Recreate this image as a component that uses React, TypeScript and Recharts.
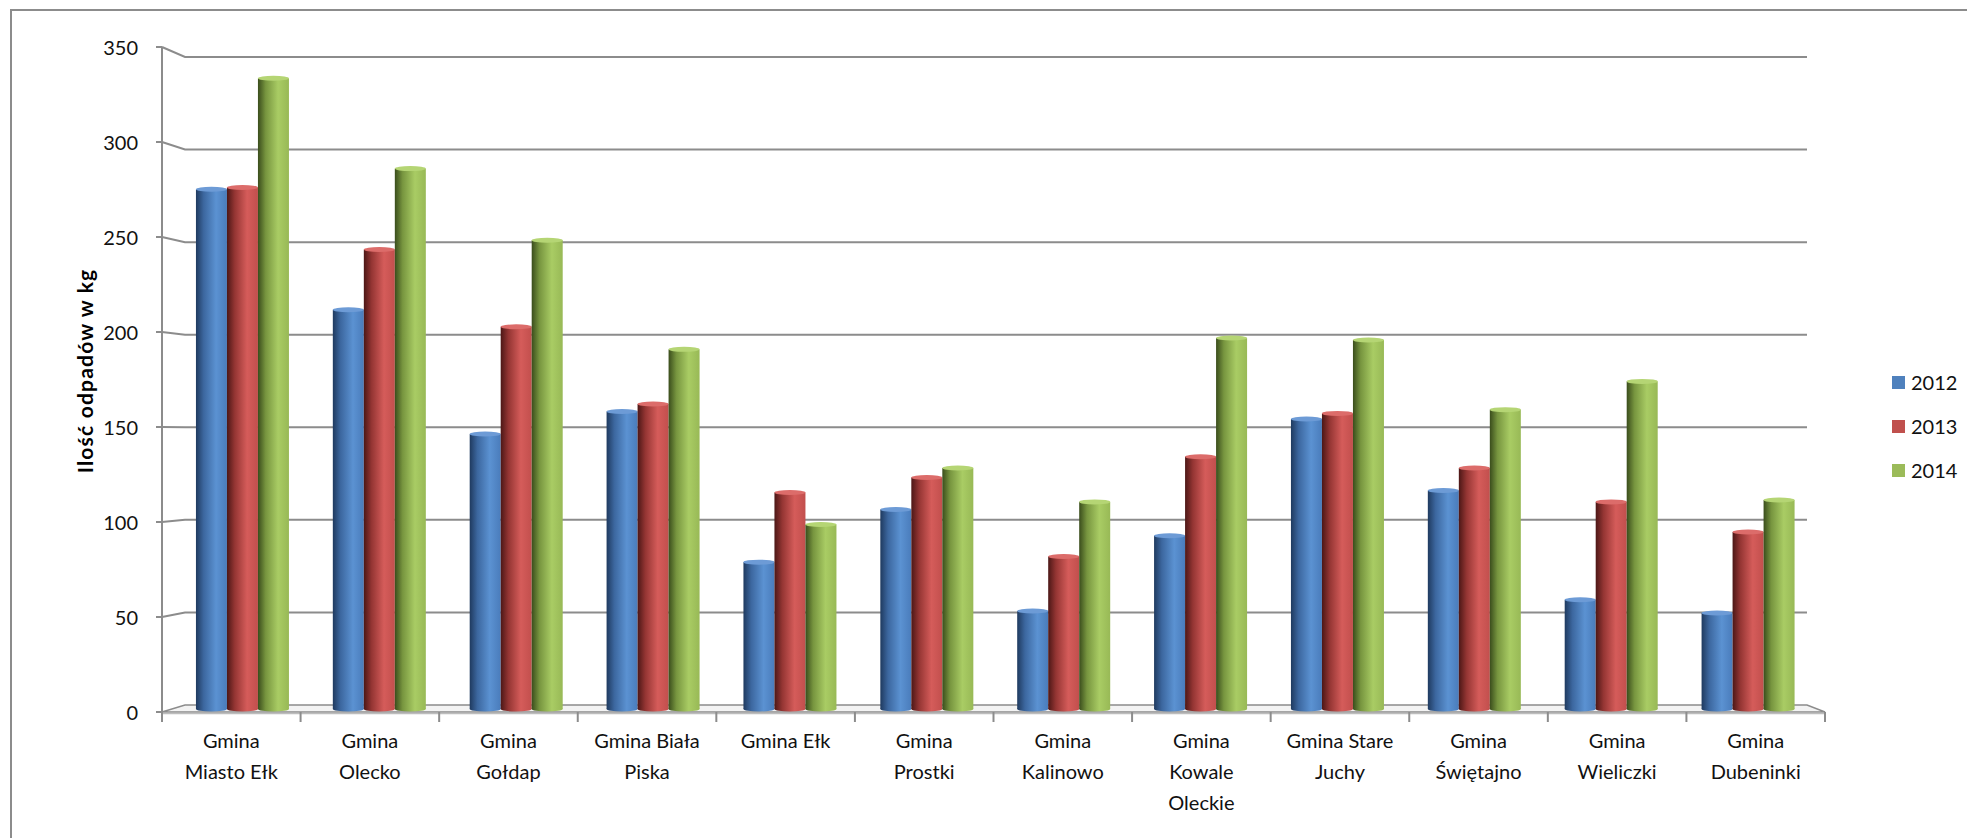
import React from 'react';
import { BarChart, Bar, XAxis, YAxis, CartesianGrid, Legend } from 'recharts';

const categories = [
  'Gmina Miasto Ełk', 'Gmina Olecko', 'Gmina Gołdap', 'Gmina Biała Piska', 'Gmina Ełk', 'Gmina Prostki',
  'Gmina Kalinowo', 'Gmina Kowale Oleckie', 'Gmina Stare Juchy', 'Gmina Świętajno', 'Gmina Wieliczki', 'Gmina Dubeninki',
];
const categoryLines = [
  ['Gmina', 'Miasto Ełk'], ['Gmina', 'Olecko'], ['Gmina', 'Gołdap'], ['Gmina Biała', 'Piska'], ['Gmina Ełk'],
  ['Gmina', 'Prostki'], ['Gmina', 'Kalinowo'], ['Gmina', 'Kowale', 'Oleckie'], ['Gmina Stare', 'Juchy'],
  ['Gmina', 'Świętajno'], ['Gmina', 'Wieliczki'], ['Gmina', 'Dubeninki'],
];
const series2012 = [276, 212, 146, 158, 78, 106, 52, 92, 154, 116, 58, 51];
const series2013 = [277, 244, 203, 162, 115, 123, 81, 134, 157, 128, 110, 94];
const series2014 = [335, 287, 249, 191, 98, 128, 110, 197, 196, 159, 174, 111];
const seriesNames = ['2012', '2013', '2014'];
const yTicks = [0, 50, 100, 150, 200, 250, 300, 350];
const yAxisTitle = 'Ilość odpadów w kg';

const data = categories.map((name, i) => ({
  name,
  s2012: series2012[i],
  s2013: series2013[i],
  s2014: series2014[i],
}));

const FONT = 'Lato, "Open Sans", sans-serif';
const CW = 1967;
const CH = 830;
const PLOT_L = 165.5;
const PLOT_R = 1808;
const PLOT_T = 42;
const PLOT_B = 701;
const FRONT_X = 154;
const FRONT_R = 1817;
const BACK_L = 177;
const BACK_R = 1799;
const GRID = '#8c8c8c';

const frontY = (y: number) => 39 + ((y - PLOT_T) * 665) / (PLOT_B - PLOT_T);
const backY = (y: number) => 49 + ((y - PLOT_T) * 648) / (PLOT_B - PLOT_T);
const frontX = (x: number) => FRONT_X + ((x - PLOT_L) * (FRONT_R - FRONT_X)) / (PLOT_R - PLOT_L);
const BAND = (PLOT_R - PLOT_L) / categories.length;

const GridLine = (p: any) => {
  const y = p.y1;
  if (Math.abs(y - PLOT_B) < 1) {
    const fy = frontY(y);
    const by = backY(y);
    return (
      <g key={`gl-${p.index}`}>
        <polygon
          points={`${FRONT_X},${fy} ${BACK_L},${by} ${BACK_R},${by} ${FRONT_R},${fy}`}
          fill="#f3f3f3"
          stroke={GRID}
          strokeWidth={1.5}
        />
        <line x1={FRONT_X} y1={fy + 1.5} x2={FRONT_R} y2={fy + 1.5} stroke="#bdbdbd" strokeWidth={1.5} />
      </g>
    );
  }
  const fy = frontY(y);
  const by = backY(y);
  return (
    <polyline
      key={`gl-${p.index}`}
      points={`${FRONT_X},${fy} ${BACK_L},${by} ${BACK_R},${by}`}
      fill="none"
      stroke={GRID}
      strokeWidth={2}
    />
  );
};

const YTick = (props: any) => {
  const { y, payload } = props;
  const fy = frontY(y);
  return (
    <g>
      {payload.value === 0 && (
        <line x1={FRONT_X} y1={frontY(PLOT_T)} x2={FRONT_X} y2={frontY(PLOT_B) + 10} stroke={GRID} strokeWidth={2} />
      )}
      <line x1={FRONT_X - 6} y1={fy} x2={FRONT_X} y2={fy} stroke={GRID} strokeWidth={2} />
      <text x={130} y={fy} textAnchor="end" dominantBaseline="central" fontSize={20} fontFamily={FONT} fill="#111">
        {payload.value}
      </text>
    </g>
  );
};

const XTick = (props: any) => {
  const { x, payload } = props;
  const i = categories.indexOf(payload.value);
  const lines = categoryLines[i] || [payload.value];
  const fx = frontX(x);
  const half = (BAND / 2) * (FRONT_R - FRONT_X) / (PLOT_R - PLOT_L);
  const fy = frontY(PLOT_B);
  return (
    <g>
      <line x1={fx - half} y1={fy} x2={fx - half} y2={fy + 10} stroke={GRID} strokeWidth={2} />
      {i === categories.length - 1 && (
        <line x1={fx + half} y1={fy} x2={fx + half} y2={fy + 10} stroke={GRID} strokeWidth={2} />
      )}
      {lines.map((l, k) => (
        <text
          key={k}
          x={fx}
          y={732 + k * 31}
          textAnchor="middle"
          dominantBaseline="central"
          fontSize={20}
          fontFamily={FONT}
          fill="#111"
        >
          {l}
        </text>
      ))}
    </g>
  );
};

const YTitle = () => (
  <text
    x={76}
    y={363}
    transform="rotate(-90 76 363)"
    textAnchor="middle"
    dominantBaseline="central"
    fontSize={21}
    letterSpacing={1.2}
    fontWeight="bold"
    fontFamily={FONT}
    fill="#000"
  >
    {yAxisTitle}
  </text>
);

const Cyl = (props: any) => {
  const { x, y, width, height, grad, top } = props;
  if (!height || height <= 0) return null;
  const rx = width / 2;
  const ry = 2.5;
  return (
    <g>
      <ellipse cx={x + rx} cy={y + height} rx={rx} ry={ry} fill={`url(#${grad})`} />
      <rect x={x} y={y} width={width} height={height} fill={`url(#${grad})`} />
      <ellipse cx={x + rx} cy={y} rx={rx} ry={ry} fill={top} />
    </g>
  );
};

const LegendContent = (props: any) => {
  const payload = props.payload || [];
  return (
    <div style={{ fontFamily: FONT }}>
      {payload.map((e: any, k: number) => (
        <div key={k} style={{ display: 'flex', alignItems: 'center', height: 44 }}>
          <span style={{ display: 'inline-block', width: 13, height: 13, background: e.color, marginRight: 6 }} />
          <span style={{ fontSize: 20, color: '#111', lineHeight: '20px' }}>{e.value}</span>
        </div>
      ))}
    </div>
  );
};

const gradStops = (c: string[]) => (
  <>
    <stop offset="0%" stopColor={c[0]} />
    <stop offset="25%" stopColor={c[1]} />
    <stop offset="65%" stopColor={c[2]} />
    <stop offset="100%" stopColor={c[3]} />
  </>
);

export default function App() {
  return (
    <div style={{ position: 'relative', width: CW, height: CH, overflow: 'hidden' }}>
      <div
        style={{
          position: 'absolute',
          left: 2,
          top: 1,
          width: 1960,
          height: 900,
          border: '2px solid #8c8c8c',
        }}
      />
      <div style={{ position: 'absolute', left: 0, top: 0 }}>
        <BarChart
          width={CW}
          height={CH}
          data={data}
          margin={{ top: PLOT_T, right: CW - PLOT_R, bottom: 19, left: PLOT_L - 80 }}
          barCategoryGap="16.4%"
          barGap={0}
        >
          <defs>
            <linearGradient id="gBlue" x1="0" y1="0" x2="1" y2="0">
              {gradStops(['#1f3a5f', '#3c679f', '#5b92d2', '#4a7cbb'])}
            </linearGradient>
            <linearGradient id="gRed" x1="0" y1="0" x2="1" y2="0">
              {gradStops(['#4c1716', '#943533', '#d55c5a', '#c24f4d'])}
            </linearGradient>
            <linearGradient id="gGreen" x1="0" y1="0" x2="1" y2="0">
              {gradStops(['#3a4d1c', '#77953f', '#a9cc64', '#98b956'])}
            </linearGradient>
          </defs>
          <CartesianGrid vertical={false} horizontal={GridLine as any} fill="none" />
          <XAxis
            dataKey="name"
            interval={0}
            axisLine={false}
            tickLine={false}
            height={110}
            tick={XTick as any}
          />
          <YAxis
            width={80}
            domain={[0, 350]}
            ticks={yTicks}
            axisLine={false}
            tickLine={false}
            tick={YTick as any}
            label={<YTitle />}
          />
          <Legend
            layout="vertical"
            align="center"
            verticalAlign="middle"
            wrapperStyle={{ left: 1884, top: 352, width: 80 }}
            content={LegendContent as any}
          />
          <Bar
            dataKey="s2012"
            name={seriesNames[0]}
            fill="#4F81BD"
            isAnimationActive={false}
            shape={(p: any) => <Cyl {...p} grad="gBlue" top="#6d9bd6" />}
          />
          <Bar
            dataKey="s2013"
            name={seriesNames[1]}
            fill="#C0504D"
            isAnimationActive={false}
            shape={(p: any) => <Cyl {...p} grad="gRed" top="#dc6c6a" />}
          />
          <Bar
            dataKey="s2014"
            name={seriesNames[2]}
            fill="#9BBB59"
            isAnimationActive={false}
            shape={(p: any) => <Cyl {...p} grad="gGreen" top="#b5d574" />}
          />
        </BarChart>
      </div>
    </div>
  );
}
